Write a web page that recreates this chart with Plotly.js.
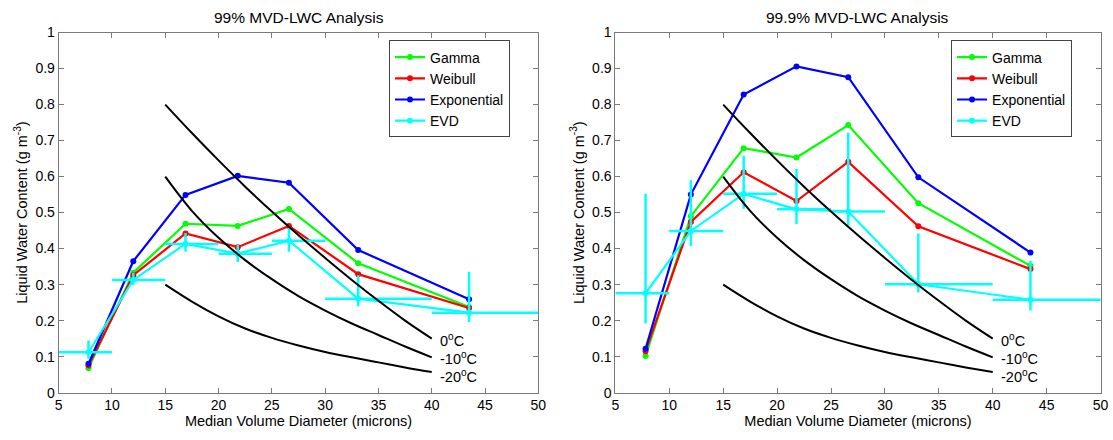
<!DOCTYPE html>
<html>
<head>
<meta charset="utf-8">
<script src="https://cdn.plot.ly/plotly-3.0.1.min.js"></script>
<style>html,body{margin:0;padding:0;background:#fff;}#chart{width:1113px;height:440px;}</style>
</head>
<body>
<div id="chart"></div>
<script>
// MVD bin centres (microns) and bin edges
var mvd = [7.8, 12.0, 16.9, 21.8, 26.6, 33.1, 43.5];
var binLo = [5, 10, 15, 20, 25, 30, 40];
var binHi = [10, 15, 20, 25, 30, 40, 60];

// 99% analysis
var gamma99 = [0.068, 0.333, 0.469, 0.463, 0.510, 0.359, 0.238];
var weibull99 = [0.075, 0.326, 0.442, 0.404, 0.463, 0.329, 0.235];
var expo99 = [0.080, 0.365, 0.549, 0.602, 0.583, 0.396, 0.259];
var evd99 = [0.112, 0.313, 0.413, 0.386, 0.422, 0.261, 0.222];
var evd99Hi = [0.145, 0.333, 0.443, 0.410, 0.457, 0.326, 0.336];
var evd99Lo = [0.094, 0.298, 0.391, 0.363, 0.391, 0.240, 0.196];

// 99.9% analysis
var gamma999 = [0.102, 0.490, 0.679, 0.653, 0.743, 0.526, 0.352];
var weibull999 = [0.115, 0.474, 0.612, 0.532, 0.641, 0.462, 0.343];
var expo999 = [0.122, 0.550, 0.828, 0.906, 0.876, 0.598, 0.389];
var evd999 = [0.276, 0.449, 0.552, 0.509, 0.503, 0.301, 0.258];
var evd999Hi = [0.552, 0.590, 0.658, 0.621, 0.722, 0.442, 0.366];
var evd999Lo = [0.192, 0.407, 0.511, 0.468, 0.465, 0.278, 0.228];

// Temperature reference curves
var curveX = [15, 17.5, 20, 22.5, 25, 27.5, 30, 32.5, 35, 37.5, 40];
var curve0 = [0.800, 0.721, 0.645, 0.572, 0.503, 0.437, 0.374, 0.313, 0.255, 0.200, 0.150];
var curveM10 = [0.600, 0.505, 0.430, 0.368, 0.315, 0.268, 0.228, 0.192, 0.160, 0.128, 0.098];
var curveM20 = [0.300, 0.253, 0.212, 0.178, 0.152, 0.131, 0.113, 0.098, 0.084, 0.070, 0.057];
var curveLabels = ['0<sup>o</sup>C', '-10<sup>o</sup>C', '-20<sup>o</sup>C'];
var curveLabelY = [0.147, 0.095, 0.045];

var seriesNames = ['Gamma', 'Weibull', 'Exponential', 'EVD'];
var colors = ['#00ff00', '#ff0000', '#0000ff', '#00ffff'];

function diff(a, b) { return a.map(function (v, i) { return v - b[i]; }); }

function buildPanel(xa, ya, leg, g, w, e, evd, hi, lo) {
  var out = [];
  var vals = [g, w, e, evd];
  vals.forEach(function (v, k) {
    var t = {
      x: mvd, y: v, xaxis: xa, yaxis: ya, legend: leg,
      name: seriesNames[k], type: 'scatter', mode: 'lines+markers',
      line: {color: colors[k], width: 2.2},
      marker: {color: colors[k], size: 6}
    };
    if (k === 3) {
      t.error_y = {type: 'data', symmetric: false, array: diff(hi, evd), arrayminus: diff(evd, lo),
                   color: colors[3], thickness: 2.5, width: 0};
      t.error_x = {type: 'data', symmetric: false, array: diff(binHi, mvd), arrayminus: diff(mvd, binLo),
                   color: colors[3], thickness: 2.5, width: 0};
    }
    out.push(t);
  });
  [curve0, curveM10, curveM20].forEach(function (c) {
    out.push({x: curveX, y: c, xaxis: xa, yaxis: ya, type: 'scatter', mode: 'lines',
              line: {color: '#000', width: 2, shape: 'spline', smoothing: 1}, showlegend: false, hoverinfo: 'skip'});
  });
  return out;
}

var data = buildPanel('x', 'y', 'legend', gamma99, weibull99, expo99, evd99, evd99Hi, evd99Lo)
  .concat(buildPanel('x2', 'y2', 'legend2', gamma999, weibull999, expo999, evd999, evd999Hi, evd999Lo));

var font = {family: 'Liberation Sans, Arial, Helvetica, sans-serif', color: '#000'};
function xaxis(dom, anchor) {
  return {domain: dom, anchor: anchor, range: [5, 50], dtick: 5, tick0: 5,
          showline: true, mirror: 'ticks', linecolor: '#7a7a7a', linewidth: 1,
          ticks: 'inside', ticklen: 5, tickcolor: '#7a7a7a', showgrid: false, zeroline: false,
          tickfont: {family: font.family, size: 14, color: '#000'},
          title: {text: 'Median Volume Diameter (microns)', font: {family: font.family, size: 14.5, color: '#000'}, standoff: 2}};
}
function yaxis(anchor) {
  return {domain: [0.1077, 0.9260], anchor: anchor, range: [0, 1], dtick: 0.1, tick0: 0,
          showline: true, mirror: 'ticks', linecolor: '#7a7a7a', linewidth: 1,
          ticks: 'inside', ticklen: 5, tickcolor: '#7a7a7a', showgrid: false, zeroline: false,
          tickfont: {family: font.family, size: 14, color: '#000'},
          title: {text: 'Liquid Water Content (g m<sup>-3</sup>)', font: {family: font.family, size: 14.5, color: '#000'}, standoff: 4}};
}

var annotations = [];
[['x', 'y', '99% MVD-LWC Analysis'], ['x2', 'y2', '99.9% MVD-LWC Analysis']].forEach(function (p) {
  annotations.push({xref: p[0] + ' domain', yref: p[1] + ' domain', x: 0.5, y: 1, yanchor: 'bottom', yshift: 5,
                    showarrow: false, text: p[2], font: {family: font.family, size: 15.5, color: '#000'}});
  curveLabels.forEach(function (txt, i) {
    annotations.push({xref: p[0], yref: p[1], x: 40.6, y: curveLabelY[i], xanchor: 'left', yanchor: 'middle',
                      showarrow: false, text: txt, font: {family: font.family, size: 14.5, color: '#000'}});
  });
});

var legendStyle = function (x) {
  return {x: x, y: 0.908, xanchor: 'left', yanchor: 'top', bgcolor: '#fff', bordercolor: '#444', borderwidth: 1,
          font: {family: font.family, size: 14, color: '#000'}, tracegroupgap: 0, itemwidth: 30,
          entrywidth: 100, entrywidthmode: 'pixels'};
};

var layout = {
  width: 1113, height: 440,
  margin: {l: 0, r: 0, t: 0, b: 0},
  paper_bgcolor: '#fff', plot_bgcolor: '#fff',
  font: font,
  showlegend: true,
  xaxis: xaxis([0.0527, 0.4837], 'y'),
  yaxis: yaxis('x'),
  xaxis2: xaxis([0.5529, 0.9888], 'y2'),
  yaxis2: yaxis('x2'),
  legend: legendStyle(0.3495),
  legend2: legendStyle(0.8545),
  annotations: annotations
};

Plotly.newPlot('chart', data, layout, {staticPlot: true, displayModeBar: false});
</script>
</body>
</html>
